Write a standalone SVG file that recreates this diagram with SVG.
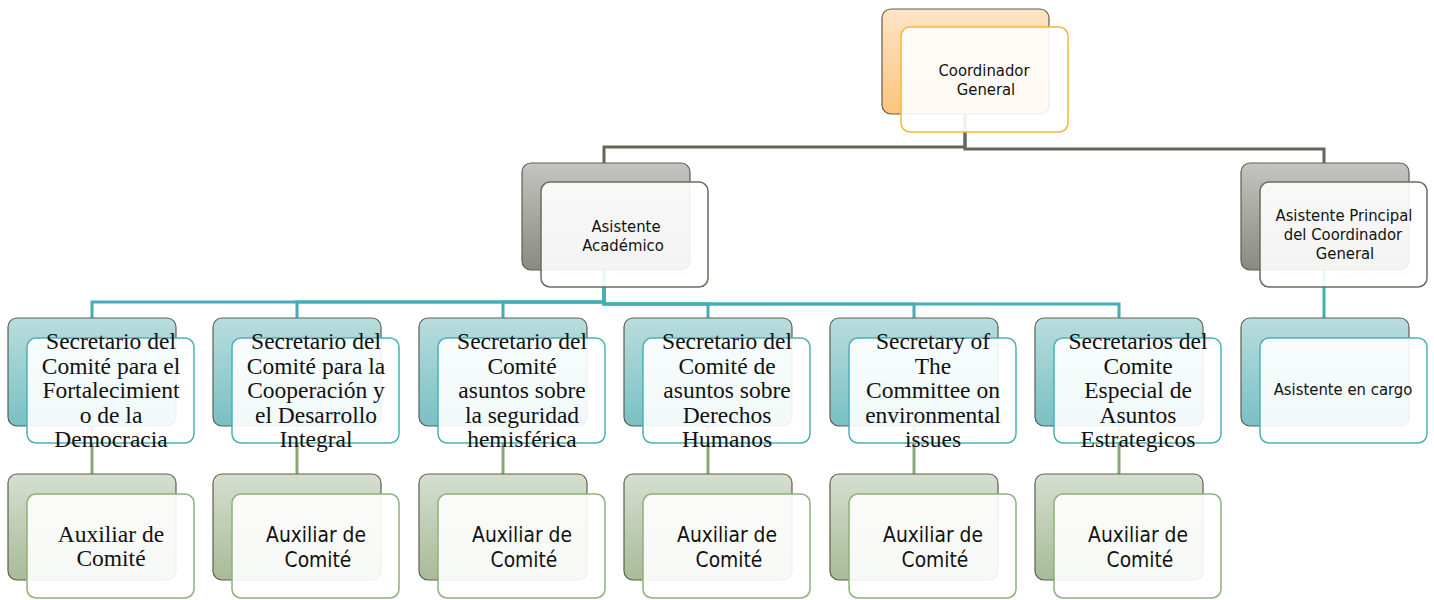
<svg xmlns="http://www.w3.org/2000/svg" width="1434" height="600" viewBox="0 0 1434 600">
<defs>
<linearGradient id="gOr" x1="0" y1="0" x2="0" y2="1"><stop offset="0" stop-color="#fde3c6"/><stop offset="1" stop-color="#fcc57c"/></linearGradient>
<linearGradient id="gGr" x1="0" y1="0" x2="0" y2="1"><stop offset="0" stop-color="#c4c4c0"/><stop offset="1" stop-color="#8a8a84"/></linearGradient>
<linearGradient id="gTe" x1="0" y1="0" x2="0" y2="1"><stop offset="0" stop-color="#b9dddd"/><stop offset="1" stop-color="#79c0c4"/></linearGradient>
<linearGradient id="gGn" x1="0" y1="0" x2="0" y2="1"><stop offset="0" stop-color="#d6dfcf"/><stop offset="1" stop-color="#a8bb98"/></linearGradient>
<style>
.back{stroke:#5e5e52;stroke-width:1.2}
.front{fill:#ffffff;fill-opacity:0.9;stroke-width:1.5}
.or .back{fill:url(#gOr)} .or .front{stroke:#f7b733}
.gr .back{fill:url(#gGr)} .gr .front{stroke:#6b6b5c}
.te .back{fill:url(#gTe)} .te .front{stroke:#4ab2b9}
.gn .back{fill:url(#gGn)} .gn .front{stroke:#8db17a}
.sans{font-family:"DejaVu Sans Condensed","DejaVu Sans",sans-serif;fill:#111;text-anchor:middle}
.s16{font-size:16.5px}
.s21{font-size:20.8px}
.serif{font-family:"Liberation Serif","Times New Roman",serif;fill:#111;text-anchor:middle;font-size:23.5px}
.c1{fill:none;stroke:#66665a;stroke-width:3}
.c2{fill:none;stroke:#45aeb4;stroke-width:3}
.c3{fill:none;stroke:#88a878;stroke-width:3}
</style>
</defs>
<rect width="1434" height="600" fill="#ffffff"/>
<g id="connectors">
<path class="c1" d="M965 113 V147 H604 V163"/>
<path class="c1" d="M965 113 V149 H1324 V163"/>
<path class="c2" d="M604 270 V302 H92 V318"/>
<path class="c2" d="M604 270 V302 H297 V318"/>
<path class="c2" d="M604 270 V302 H503 V318"/>
<path class="c2" d="M604 270 V304 H708 V318"/>
<path class="c2" d="M604 270 V304 H914 V318"/>
<path class="c2" d="M604 270 V304 H1119 V318"/>
<path class="c2" d="M1324 270 V318"/>
<path class="c3" d="M92 426 V474"/>
<path class="c3" d="M297 426 V474"/>
<path class="c3" d="M503 426 V474"/>
<path class="c3" d="M708 426 V474"/>
<path class="c3" d="M914 426 V474"/>
<path class="c3" d="M1119 426 V474"/>
</g>
<g id="coordinador" class="or">
<rect class="back" x="882" y="9" width="167" height="105" rx="9"/>
<rect class="front" x="901" y="27" width="167" height="105" rx="9"/>
<text class="sans s16" x="984" y="76">Coordinador</text>
<text class="sans s16" x="986" y="95">General</text>
</g>
<g id="asistente-academico" class="gr">
<rect class="back" x="522" y="163" width="168" height="107" rx="9"/>
<rect class="front" x="541" y="182" width="167" height="105" rx="9"/>
<text class="sans s16" x="626" y="232">Asistente</text>
<text class="sans s16" x="623" y="251">Académico</text>
</g>
<g id="asistente-principal" class="gr">
<rect class="back" x="1241" y="163" width="168" height="107" rx="9"/>
<rect class="front" x="1260" y="182" width="167" height="105" rx="9"/>
<text class="sans s16" x="1344" y="221">Asistente Principal</text>
<text class="sans s16" x="1343" y="240">del Coordinador</text>
<text class="sans s16" x="1345" y="259">General</text>
</g>
<g id="asistente-cargo" class="te">
<rect class="back" x="1241" y="318" width="168" height="108" rx="9"/>
<rect class="front" x="1260" y="338" width="167" height="105" rx="9"/>
<text class="sans s16" x="1343" y="395">Asistente en cargo</text>
</g>
<g id="sec1" class="te">
<rect class="back" x="8" y="318" width="168" height="108" rx="9"/>
<rect class="front" x="27" y="338" width="167" height="105" rx="9"/>
<text class="serif" x="111" y="349">Secretario del</text>
<text class="serif" x="111" y="373.5">Comité para el</text>
<text class="serif" x="111" y="398">Fortalecimient</text>
<text class="serif" x="111" y="422.5">o de la</text>
<text class="serif" x="111" y="447">Democracia</text>
</g>
<g id="sec2" class="te">
<rect class="back" x="213" y="318" width="168" height="108" rx="9"/>
<rect class="front" x="232" y="338" width="167" height="105" rx="9"/>
<text class="serif" x="316" y="349">Secretario del</text>
<text class="serif" x="316" y="373.5">Comité para la</text>
<text class="serif" x="316" y="398">Cooperación y</text>
<text class="serif" x="316" y="422.5">el Desarrollo</text>
<text class="serif" x="316" y="447">Integral</text>
</g>
<g id="sec3" class="te">
<rect class="back" x="419" y="318" width="168" height="108" rx="9"/>
<rect class="front" x="438" y="338" width="167" height="105" rx="9"/>
<text class="serif" x="522" y="349">Secretario del</text>
<text class="serif" x="522" y="373.5">Comité</text>
<text class="serif" x="522" y="398">asuntos sobre</text>
<text class="serif" x="522" y="422.5">la seguridad</text>
<text class="serif" x="522" y="447">hemisférica</text>
</g>
<g id="sec4" class="te">
<rect class="back" x="624" y="318" width="168" height="108" rx="9"/>
<rect class="front" x="643" y="338" width="167" height="105" rx="9"/>
<text class="serif" x="727" y="349">Secretario del</text>
<text class="serif" x="727" y="373.5">Comité de</text>
<text class="serif" x="727" y="398">asuntos sobre</text>
<text class="serif" x="727" y="422.5">Derechos</text>
<text class="serif" x="727" y="447">Humanos</text>
</g>
<g id="sec5" class="te">
<rect class="back" x="830" y="318" width="168" height="108" rx="9"/>
<rect class="front" x="849" y="338" width="167" height="105" rx="9"/>
<text class="serif" x="933" y="349">Secretary of</text>
<text class="serif" x="933" y="373.5">The</text>
<text class="serif" x="933" y="398">Committee on</text>
<text class="serif" x="933" y="422.5">environmental</text>
<text class="serif" x="933" y="447">issues</text>
</g>
<g id="sec6" class="te">
<rect class="back" x="1035" y="318" width="168" height="108" rx="9"/>
<rect class="front" x="1054" y="338" width="167" height="105" rx="9"/>
<text class="serif" x="1138" y="349">Secretarios del</text>
<text class="serif" x="1138" y="373.5">Comite</text>
<text class="serif" x="1138" y="398">Especial de</text>
<text class="serif" x="1138" y="422.5">Asuntos</text>
<text class="serif" x="1138" y="447">Estrategicos</text>
</g>
<g id="aux1" class="gn">
<rect class="back" x="8" y="474" width="168" height="106" rx="9"/>
<rect class="front" x="27" y="494" width="167" height="104" rx="9"/>
<text class="serif" x="111" y="542">Auxiliar de</text>
<text class="serif" x="111" y="566">Comité</text>
</g>
<g id="aux2" class="gn">
<rect class="back" x="213" y="474" width="168" height="106" rx="9"/>
<rect class="front" x="232" y="494" width="167" height="104" rx="9"/>
<text class="sans s21" x="316" y="542">Auxiliar de</text>
<text class="sans s21" x="318" y="567">Comité</text>
</g>
<g id="aux3" class="gn">
<rect class="back" x="419" y="474" width="168" height="106" rx="9"/>
<rect class="front" x="438" y="494" width="167" height="104" rx="9"/>
<text class="sans s21" x="522" y="542">Auxiliar de</text>
<text class="sans s21" x="524" y="567">Comité</text>
</g>
<g id="aux4" class="gn">
<rect class="back" x="624" y="474" width="168" height="106" rx="9"/>
<rect class="front" x="643" y="494" width="167" height="104" rx="9"/>
<text class="sans s21" x="727" y="542">Auxiliar de</text>
<text class="sans s21" x="729" y="567">Comité</text>
</g>
<g id="aux5" class="gn">
<rect class="back" x="830" y="474" width="168" height="106" rx="9"/>
<rect class="front" x="849" y="494" width="167" height="104" rx="9"/>
<text class="sans s21" x="933" y="542">Auxiliar de</text>
<text class="sans s21" x="935" y="567">Comité</text>
</g>
<g id="aux6" class="gn">
<rect class="back" x="1035" y="474" width="168" height="106" rx="9"/>
<rect class="front" x="1054" y="494" width="167" height="104" rx="9"/>
<text class="sans s21" x="1138" y="542">Auxiliar de</text>
<text class="sans s21" x="1140" y="567">Comité</text>
</g>
</svg>
